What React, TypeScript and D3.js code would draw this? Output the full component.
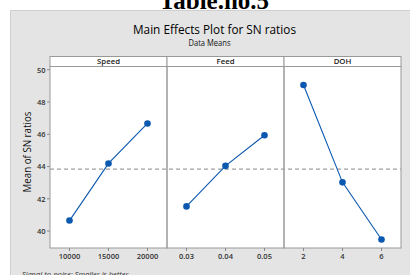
import React from "react";
import * as d3 from "d3";

const factors = ["Speed", "Feed", "DOH"];
const speedLevels = ["10000", "15000", "20000"];
const feedLevels = ["0.03", "0.04", "0.05"];
const dohLevels = ["2", "4", "6"];
const speedMeans = [40.65, 44.19, 46.67];
const feedMeans = [41.53, 44.04, 45.94];
const dohMeans = [49.05, 43.02, 39.48];
const grandMean = 43.84;
const yTicks = [40, 42, 44, 46, 48, 50];

const W = 410, H = 275;
const left = 50, right = 401, headTop = 56.5, top = 66.5, bottom = 248;
const blue = "#0b58b0";
const sans = "'Open Sans', 'Noto Sans', 'DejaVu Sans', sans-serif";

export default function App() {
  const levels = [speedLevels, feedLevels, dohLevels];
  const means = [speedMeans, feedMeans, dohMeans];
  const panelW = (right - left) / 3;
  const y = d3.scaleLinear().domain([38.95, 50.2]).range([bottom, top]);
  const line = d3.line<[number, number]>().x(d => d[0]).y(d => d[1]);

  return (
    <svg width={W} height={H} style={{ position: "absolute", left: 0, top: 0 }}>
      <rect x={10.5} y={10.5} width={410} height={280} fill="#e4e4e4" stroke="#cfcfcf" />
      <text x={214} y={9} textAnchor="middle" fontFamily="'Liberation Serif', 'DejaVu Serif', serif" fontWeight="bold" fontSize={25}>Table.no.5</text>
      <text x={214.5} y={33.5} textAnchor="middle" fontFamily={sans} fontSize={12.5} fill="#000" textLength={163} lengthAdjust="spacingAndGlyphs">Main Effects Plot for SN ratios</text>
      <text x={209.5} y={46} textAnchor="middle" fontFamily={sans} fontSize={9} fill="#111" textLength={42} lengthAdjust="spacingAndGlyphs">Data Means</text>
      <text transform={`translate(31,152) rotate(-90)`} textAnchor="middle" fontFamily={sans} fontSize={11.2} fill="#111" textLength={81} lengthAdjust="spacingAndGlyphs">Mean of SN ratios</text>
      <text x={22} y={277} fontFamily={sans} fontStyle="italic" fontSize={7.5} fill="#333">Signal-to-noise: Smaller is better</text>

      <rect x={left} y={top} width={right - left} height={bottom - top} fill="#fff" />
      {yTicks.map(t => (
        <g key={t}>
          <line x1={left - 3} x2={left} y1={y(t)} y2={y(t)} stroke="#888" />
          <text x={left - 4.5} y={y(t) + 2.8} textAnchor="end" fontFamily={sans} fontSize={7.5} fontWeight="600" fill="#333">{t}</text>
        </g>
      ))}
      <line x1={left} x2={right} y1={y(grandMean)} y2={y(grandMean)} stroke="#888" strokeDasharray="4,3" />
      {factors.map((f, i) => {
        const x0 = left + i * panelW;
        const xs = d3.scalePoint<string>().domain(levels[i]).range([x0, x0 + panelW]).padding(0.5);
        const pts: [number, number][] = levels[i].map((l, j) => [xs(l) as number, y(means[i][j])]);
        return (
          <g key={f}>
            <rect x={x0} y={headTop} width={panelW} height={top - headTop} fill="#fff" stroke="#999" />
            <text x={x0 + panelW / 2} y={top - 2.3} textAnchor="middle" fontFamily={sans} fontSize={7.8} fontWeight="600" fill="#222">{f}</text>
            <rect x={x0} y={top} width={panelW} height={bottom - top} fill="none" stroke="#999" />
            {levels[i].map(l => (
              <g key={l}>
                <line x1={xs(l)} x2={xs(l)} y1={bottom} y2={bottom + 3} stroke="#888" />
                <text x={xs(l)} y={bottom + 11} textAnchor="middle" fontFamily={sans} fontSize={7.5} fontWeight="600" fill="#333">{l}</text>
              </g>
            ))}
            <path d={line(pts) || ""} fill="none" stroke={blue} strokeWidth={1.1} />
            {pts.map((p, j) => (
              <circle key={j} cx={p[0]} cy={p[1]} r={3.3} fill={blue} />
            ))}
          </g>
        );
      })}
    </svg>
  );
}
